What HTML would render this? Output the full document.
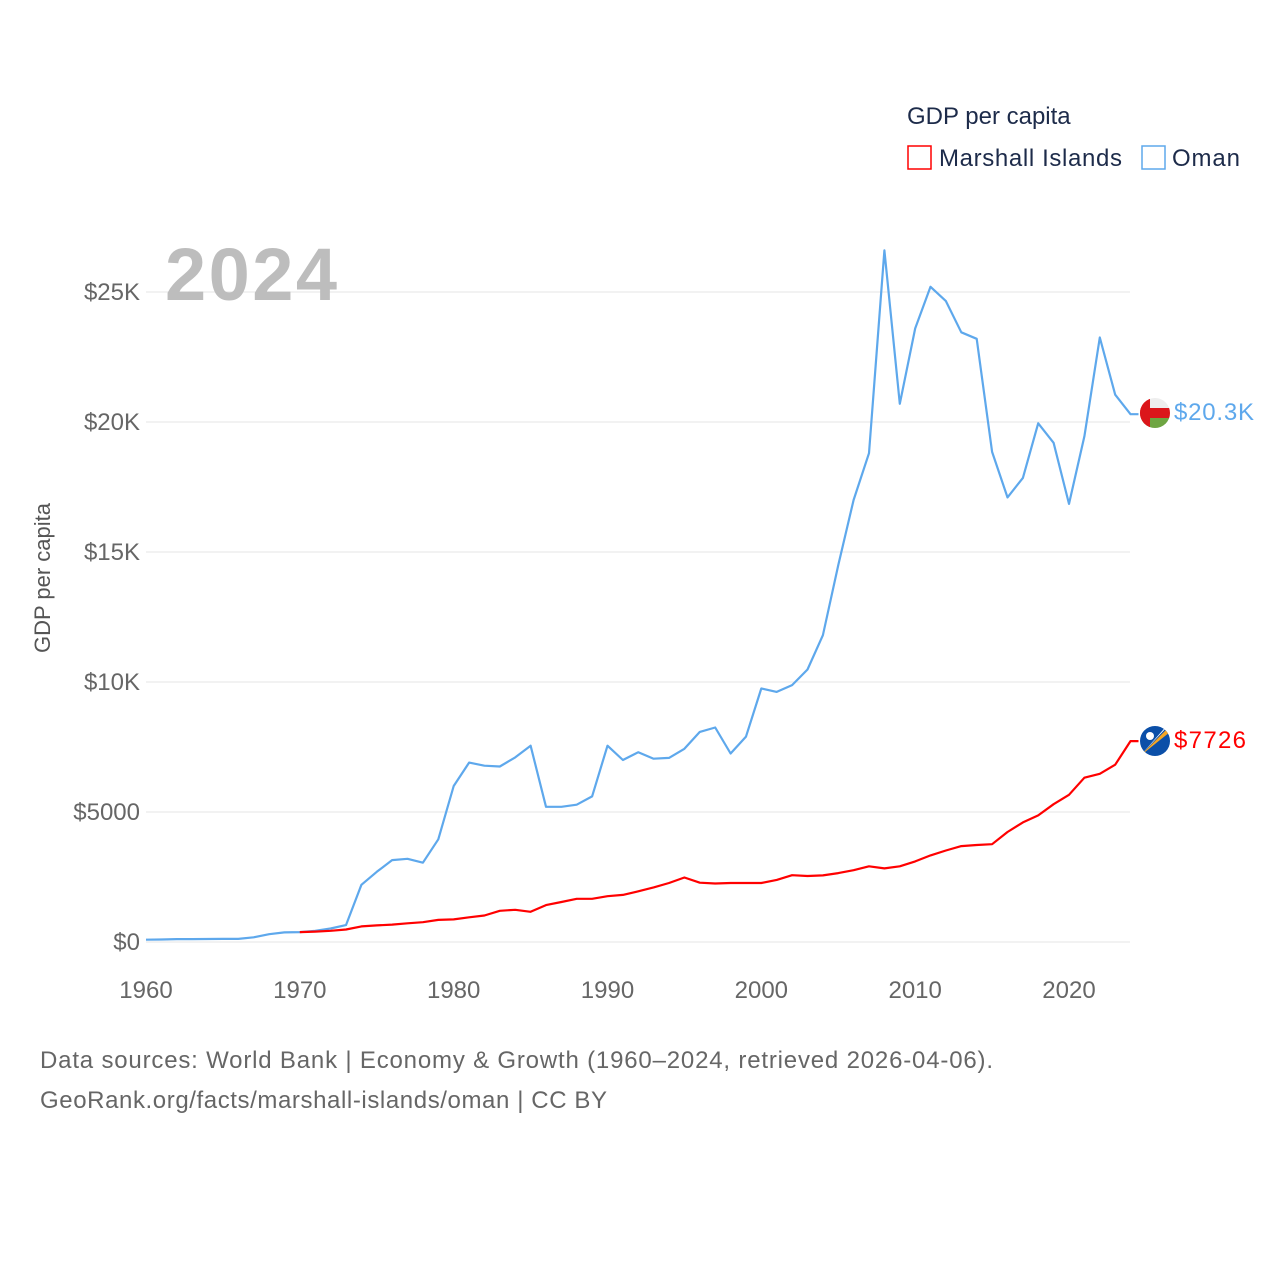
<!DOCTYPE html>
<html><head><meta charset="utf-8">
<style>
body{margin:0;background:#fff;font-family:"Liberation Sans",sans-serif;}
svg text{font-family:"Liberation Sans",sans-serif;}
</style></head>
<body>
<svg width="1280" height="1280" viewBox="0 0 1280 1280">
<g id="grid"></g>
<g id="yticks"></g>
<g id="xticks"></g>
<text x="165" y="300" font-size="74" font-weight="bold" fill="#bdbdbd" textLength="172">2024</text>
<text transform="translate(50,578) rotate(-90)" text-anchor="middle" font-size="22" fill="#555">GDP per capita</text>
<g id="lines"></g>
<g>
<text x="907" y="124" font-size="24" fill="#1d2b4a">GDP per capita</text>
<rect x="908" y="146" width="23" height="23" fill="none" stroke="#ff0000" stroke-width="1.5"/>
<text x="939" y="166" font-size="24" fill="#1d2b4a" textLength="183">Marshall Islands</text>
<rect x="1142" y="146" width="23" height="23" fill="none" stroke="#5ea8ec" stroke-width="1.5"/>
<text x="1172" y="166" font-size="24" fill="#1d2b4a" textLength="68">Oman</text>
</g>
<g>
<clipPath id="c1"><circle cx="1155" cy="413" r="15"/></clipPath>
<g clip-path="url(#c1)"><rect x="1140" y="398" width="30" height="30" fill="#eee"/><rect x="1140" y="408" width="30" height="10" fill="#db161b"/><rect x="1140" y="418" width="30" height="10" fill="#6ea542"/><rect x="1140" y="398" width="10" height="30" fill="#db161b"/></g>
</g>
<g>
<clipPath id="c2"><circle cx="1155" cy="741" r="15"/></clipPath>
<g clip-path="url(#c2)"><rect x="1140" y="726" width="30" height="30" fill="#0b4fa8"/><polygon points="1140,756 1170,726 1170,732" fill="#f5a623"/><polygon points="1140,756 1170,722 1168,726" fill="#fff"/><circle cx="1150" cy="736" r="4" fill="#fff"/></g>
</g>
<text x="1174" y="420" font-size="24" fill="#5ea8ec" textLength="80">$20.3K</text>
<text x="1174" y="748" font-size="24" fill="#ff0000" textLength="72">$7726</text>
<text x="40" y="1068" font-size="24" fill="#666" textLength="953">Data sources: World Bank | Economy &amp; Growth (1960–2024, retrieved 2026-04-06).</text>
<text x="40" y="1108" font-size="24" fill="#666" textLength="567">GeoRank.org/facts/marshall-islands/oman | CC BY</text>
</svg>
<script>
const omanStart = 1960;
const omanValues = [90,95,110,110,115,120,120,180,300,370,380,430,520,650,2200,2700,3150,3200,3050,3950,6000,6900,6780,6750,7100,7550,5200,5200,5280,5600,7550,7000,7300,7050,7080,7430,8080,8250,7250,7900,9750,9620,9880,10480,11800,14500,17000,18800,26600,20700,23600,25200,24650,23450,23200,18850,17100,17850,19950,19200,16850,19450,23250,21050,20300];
const marshallStart = 1970;
const marshallValues = [380,400,430,480,600,640,670,720,760,850,870,950,1020,1200,1240,1160,1420,1540,1660,1660,1760,1810,1950,2100,2270,2480,2280,2250,2270,2270,2270,2390,2570,2540,2560,2650,2760,2910,2830,2910,3100,3330,3520,3690,3730,3760,4230,4600,4870,5300,5660,6320,6470,6820,7726];
const yTicks = [0,5000,10000,15000,20000,25000];
const yTickLabels = ["$0","$5000","$10K","$15K","$20K","$25K"];
const xTicks = [1960,1970,1980,1990,2000,2010,2020];

const NS="http://www.w3.org/2000/svg";
function xs(yr){return 146+(yr-1960)*(1069-146)/60;}
function ys(v){return 942-v*0.026;}
function mk(tag,attrs,parent){const e=document.createElementNS(NS,tag);for(const k in attrs)e.setAttribute(k,attrs[k]);parent.appendChild(e);return e;}
const grid=document.getElementById('grid'),yt=document.getElementById('yticks'),xt=document.getElementById('xticks'),lines=document.getElementById('lines');
yTicks.forEach((v,i)=>{
  const l=mk('line',{x1:146,x2:1130,y1:ys(v),y2:ys(v),stroke:'#e6e6e6','stroke-width':1},grid);
  
  
  const t=mk('text',{x:140,y:ys(v)+8,'text-anchor':'end','font-size':24,fill:'#666'},yt);
  t.textContent=yTickLabels[i];
  
  
});
xTicks.forEach(v=>{
  const t=mk('text',{x:xs(v),y:998,'text-anchor':'middle','font-size':24,fill:'#666'},xt);
  t.textContent=v;
  
  
});
function line(start,vals,color,name){
  let d=vals.map((v,i)=>(i?'L':'M')+xs(start+i).toFixed(1)+','+ys(v).toFixed(1)).join(' ');
  const last=vals[vals.length-1];
  d+=' L'+(xs(start+vals.length-1)+8).toFixed(1)+','+ys(last).toFixed(1);
  const p=mk('path',{d:d,fill:'none',stroke:color,'stroke-width':2.2,'stroke-linejoin':'round'},lines);
  
  
}
line(omanStart,omanValues,'#5ea8ec','oman-line');
line(marshallStart,marshallValues,'#ff0000','marshall-islands-line');
</script>
</body></html>
